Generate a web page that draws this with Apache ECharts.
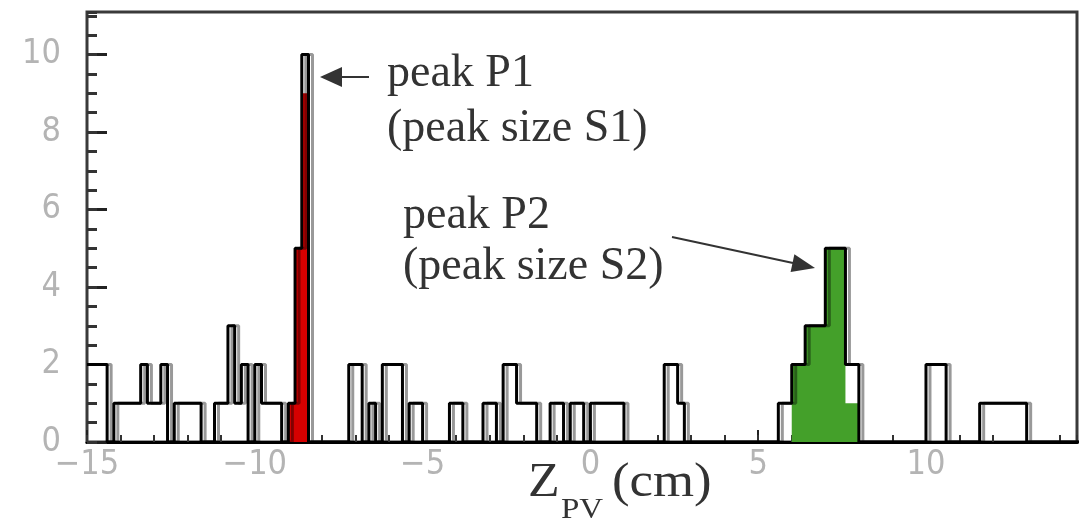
<!DOCTYPE html>
<html><head><meta charset="utf-8">
<script src="https://cdn.jsdelivr.net/npm/echarts@6/dist/echarts.min.js"></script>
<style>html,body{margin:0;padding:0;background:#fff}#c{width:1090px;height:524px}</style>
</head><body><div id="c"></div>
<script>
// Histogram of Z_PV: bins of 0.2 cm starting at -15 cm
const binStart = -15;
const binWidth = 0.2;
const totalCounts = [
  2,2,2,0,1,1,1,1,2,1,
  1,2,0,1,1,1,1,0,0,1,
  1,3,1,2,0,2,1,1,1,0,
  1,5,10,0,0,0,0,0,0,2,
  2,0,1,0,2,2,2,0,1,1,
  0,0,0,0,1,1,0,0,0,1,
  1,0,2,2,1,1,1,0,0,1,
  1,0,1,1,0,1,1,1,1,1,
  0,0,0,0,0,0,2,2,1,0,
  0,0,0,0,0,0,0,0,0,0,
  0,0,0,1,1,2,2,3,3,3,
  5,5,5,2,2,0,0,0,0,0,
  0,0,0,0,0,2,2,2,0,0,
  0,0,0,1,1,1,1,1,1,1,
  0,0,0,0,0,0,0,0
];
// peak P1 (red) and peak P2 (green) contents
const peak1StartBin = 30;
const peak1Counts = [1,5,9];
const peak2StartBin = 105;
const peak2Counts = [2,2,3,3,3,5,5,5,1,1];
const xMin = -15, xMax = 14.5;
const yMin = 0, yMax = 11.1;

function stepData(startBin, counts) {
  const pts = counts.map((c, i) => [binStart + (startBin + i) * binWidth, c]);
  pts.push([binStart + (startBin + counts.length) * binWidth, counts[counts.length - 1]]);
  return pts;
}

const chart = echarts.init(document.getElementById('c'), null, {renderer: 'canvas'});
const labelFont = "'Liberation Sans Narrow','DejaVu Sans Condensed','Liberation Sans',sans-serif";
const serif = 'Liberation Serif';

function txt(text, x, y, size, sx) {
  return {type: 'text', x: x, y: y, scaleX: sx, z: 100,
    style: {text: text, x: 0, y: 0, fontSize: size, fontFamily: serif, fill: '#333', align: 'left', verticalAlign: 'middle'}};
}

const option = {
  backgroundColor: '#fff',
  animation: false,
  grid: {left: 87, right: 13, top: 12, bottom: 82, show: true, borderColor: '#3a3a3a', borderWidth: 3, backgroundColor: 'transparent'},
  xAxis: [{
    type: 'value', min: xMin, max: xMax, interval: 5, position: 'bottom',
    axisLine: {show: true, onZero: false, lineStyle: {color: '#000', width: 3}},
    axisTick: {show: true, inside: true, length: 12, lineStyle: {color: '#222', width: 2}},
    axisLabel: {show: true, margin: 6, color: '#b4b4b4', fontFamily: labelFont, fontSize: 34,
      showMaxLabel: false,
      formatter: v => (v < 0 ? '\u2212' + Math.abs(v) : String(v))},
    splitLine: {show: false}
  }, {
    type: 'value', min: xMin, max: xMax, interval: 1, position: 'bottom',
    axisLine: {show: false, onZero: false},
    axisTick: {show: true, inside: true, length: 7, lineStyle: {color: '#333', width: 2}},
    axisLabel: {show: false}, splitLine: {show: false}
  }],
  yAxis: [{
    type: 'value', min: yMin, max: yMax, interval: 2, position: 'left',
    axisLine: {show: false, onZero: false},
    axisTick: {show: true, inside: true, length: 20, lineStyle: {color: '#222', width: 3}},
    axisLabel: {show: true, margin: 26, color: '#b4b4b4', fontFamily: labelFont, fontSize: 34, showMaxLabel: false},
    splitLine: {show: false}
  }, {
    type: 'value', min: yMin, max: yMax, interval: 0.5, position: 'left',
    axisLine: {show: false, onZero: false},
    axisTick: {show: true, inside: true, length: 10, lineStyle: {color: '#333', width: 3}},
    axisLabel: {show: false}, splitLine: {show: false}
  }],
  series: [{
    name: 'peak P1', type: 'line', step: 'end', symbol: 'none', z: 1,
    xAxisIndex: 0, yAxisIndex: 0,
    data: stepData(peak1StartBin, peak1Counts),
    lineStyle: {width: 0}, areaStyle: {color: '#d60000', opacity: 1}
  }, {
    name: 'peak P2', type: 'line', step: 'end', symbol: 'none', z: 1,
    xAxisIndex: 0, yAxisIndex: 0,
    data: stepData(peak2StartBin, peak2Counts),
    lineStyle: {width: 0}, areaStyle: {color: '#44a02a', opacity: 1}
  }, {
    name: 'all', type: 'line', step: 'end', symbol: 'none', z: 3,
    xAxisIndex: 0, yAxisIndex: 0,
    data: stepData(0, totalCounts),
    lineStyle: {color: '#000', width: 3, shadowColor: 'rgba(0,0,0,0.4)', shadowOffsetX: 4, shadowBlur: 0}
  }],
  graphic: [
    // P1 annotation
    {type: 'line', shape: {x1: 340, y1: 77, x2: 369, y2: 77}, style: {stroke: '#333', lineWidth: 2}, z: 100},
    {type: 'polygon', shape: {points: [[320, 77], [342, 67], [342, 87]]}, style: {fill: '#333'}, z: 100},
    txt('peak P1', 387, 74, 46, 1.0),
    txt('(peak size S1)', 387, 129, 46, 1.0),
    // P2 annotation
    {type: 'line', shape: {x1: 672, y1: 237, x2: 793, y2: 263}, style: {stroke: '#333', lineWidth: 2}, z: 100},
    {type: 'polygon', shape: {points: [[815, 268], [790.6, 271.9], [794.4, 254.3]]}, style: {fill: '#333'}, z: 100},
    txt('peak P2', 403, 216, 46, 1.0),
    txt('(peak size S2)', 403, 267, 46, 1.0),
    // axis title Z_PV (cm)
    txt('Z', 528, 483, 48, 1.08),
    txt('PV', 561, 510, 30, 1.1),
    txt('(cm)', 612, 483, 48, 1.1)
  ]
};
chart.setOption(option);
</script>
</body></html>
